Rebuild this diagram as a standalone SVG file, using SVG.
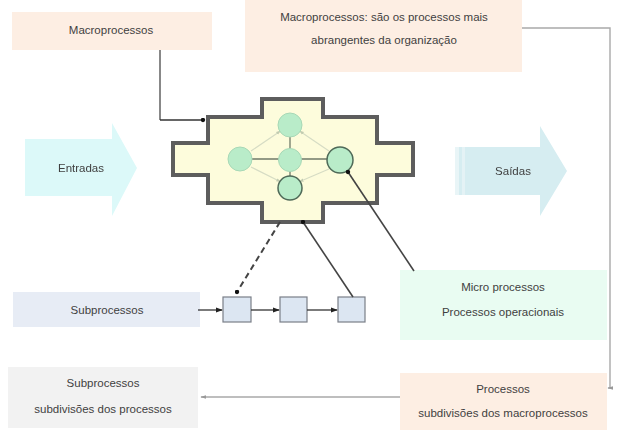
<svg xmlns="http://www.w3.org/2000/svg" width="617" height="433" viewBox="0 0 617 433">
  <style>
    text { font-family: "Liberation Sans", Arial, sans-serif; font-size: 11.5px; fill: #3f3f3f; text-anchor: middle; }
    .peach { fill: #fdeee3; }
    .sub { fill: #dce6f2; stroke: #7a7f88; stroke-width: 1.2; }
    .circ { fill: #b9ecc9; stroke: #a8d8b6; stroke-width: 1; }
    .circ-dark { fill: #b9ecc9; stroke: #4f6a58; stroke-width: 1.5; }
    .link { stroke: #333; stroke-width: 1.3; fill: none; }
    .soft { stroke: #a9a9a9; stroke-width: 1.4; fill: none; }
    .inner { stroke: #d6dcc4; stroke-width: 1.2; fill: none; }
  </style>
  <defs>
    <marker id="dot" viewBox="0 0 6 6" refX="3" refY="3" markerWidth="5" markerHeight="5" markerUnits="userSpaceOnUse">
      <circle cx="3" cy="3" r="2.6" fill="#111"/>
    </marker>
    <marker id="tip" viewBox="0 0 8 8" refX="7" refY="4" markerWidth="7" markerHeight="7" markerUnits="userSpaceOnUse" orient="auto">
      <path d="M0,1 L8,4 L0,7 z" fill="#222"/>
    </marker>
    <marker id="softTip" viewBox="0 0 8 8" refX="7" refY="4" markerWidth="6" markerHeight="6" markerUnits="userSpaceOnUse" orient="auto">
      <path d="M0,1.5 L8,4 L0,6.5 z" fill="#999"/>
    </marker>
    <marker id="tiny" viewBox="0 0 6 6" refX="3" refY="3" markerWidth="5" markerHeight="5" markerUnits="userSpaceOnUse" orient="auto">
      <path d="M0,1 L6,3 L0,5 z" fill="#c2cbb0"/>
    </marker>
    <filter id="soft" x="-10%" y="-10%" width="120%" height="120%">
      <feGaussianBlur stdDeviation="0.6"/>
    </filter>
  </defs>

  <!-- top-left label -->
  <g id="macro-label">
    <rect class="peach" x="12" y="12" width="200" height="38"/>
    <text x="111" y="34">Macroprocessos</text>
  </g>

  <!-- definition box -->
  <g id="macro-def">
    <rect class="peach" x="245" y="0" width="277" height="72"/>
    <text x="384" y="21">Macroprocessos:  são os processos mais</text>
    <text x="384" y="44">abrangentes da organização</text>
  </g>

  <!-- input arrow -->
  <g id="entradas" filter="url(#soft)">
    <path d="M25,139 H112 V123 L137,168 L112,216 V196 H25 z" fill="#dcf9f9"/>
    <text x="81" y="172">Entradas</text>
  </g>

  <!-- output arrow -->
  <g id="saidas" filter="url(#soft)">
    <path d="M455,147 H540 V126 L567,171 L540,216 V195 H455 z" fill="#d6edf1"/>
    <rect x="455" y="147" width="4" height="48" fill="#e9f5f7"/>
    <rect x="462" y="147" width="3" height="48" fill="#e4f2f5"/>
    <text x="513" y="175">Saídas</text>
  </g>

  <!-- macroprocess block -->
  <g id="macroprocesso">
    <path d="M262,99 H323 V117 H377 V143 H413 V175 H377 V203 H323 V222 H262 V203 H208 V175 H173 V143 H208 V117 H262 z"
          fill="#fdfcdc" stroke="#5d5d5d" stroke-width="4" stroke-linejoin="miter"/>
    <!-- faint links between processes -->
    <path class="inner" d="M251,151 L279,132" marker-end="url(#tiny)"/>
    <path class="inner" d="M251,167 L279,181" marker-end="url(#tiny)"/>
    <path class="inner" d="M329,151 L301,132" marker-end="url(#tiny)"/>
    <path class="inner" d="M329,169 L301,181" marker-end="url(#tiny)"/>
    <path d="M252,159 H327 M290,137 V176" stroke="#707a68" stroke-width="1.3" fill="none"/>
    <circle class="circ" cx="290" cy="125" r="12"/>
    <circle class="circ" cx="240" cy="159" r="12"/>
    <circle class="circ" cx="290" cy="160" r="11.5"/>
    <circle class="circ-dark" cx="340" cy="160" r="13"/>
    <circle class="circ-dark" cx="290" cy="188" r="12"/>
  </g>

  <!-- subprocess chain -->
  <g id="subprocessos-label">
    <rect x="13" y="292" width="187" height="35" fill="#e7ecf5"/>
    <text x="107" y="314">Subprocessos</text>
  </g>
  <g id="sub1"><rect class="sub" x="223" y="297" width="28" height="25"/></g>
  <g id="sub2"><rect class="sub" x="280" y="297" width="27" height="25"/></g>
  <g id="sub3"><rect class="sub" x="338" y="297" width="27" height="25"/></g>

  <!-- micro process box -->
  <g id="micro">
    <rect x="400" y="270" width="207" height="70" fill="#e9fcf2"/>
    <text x="503" y="291">Micro processos</text>
    <text x="503" y="316">Processos operacionais</text>
  </g>

  <!-- bottom boxes -->
  <g id="subprocessos-def">
    <rect x="8" y="367" width="190" height="61" fill="#f2f2f2"/>
    <text x="103" y="387">Subprocessos</text>
    <text x="103" y="413">subdivisões dos processos</text>
  </g>
  <g id="processos-def">
    <rect class="peach" x="400" y="373" width="207" height="57"/>
    <text x="503" y="393">Processos</text>
    <text x="503" y="417">subdivisões dos macroprocessos</text>
  </g>

  <!-- connectors, drawn last so their end dots sit on top -->
  <g id="connectors">
    <path class="soft" d="M522,28 H610 V388 H608" marker-end="url(#softTip)"/>
    <path class="soft" d="M400,397 H201" marker-end="url(#softTip)"/>
    <path d="M160,50 V120" stroke="#888" stroke-width="2" fill="none"/>
    <path class="link" d="M160,120 H203" marker-end="url(#dot)"/>
    <path d="M280,222 L237,292" stroke="#444" stroke-width="2" stroke-dasharray="6,4" fill="none" marker-end="url(#dot)"/>
    <path d="M353,297 L303,222" stroke="#444" stroke-width="1.6" fill="none" marker-end="url(#dot)"/>
    <path d="M414,271 L348,172" stroke="#444" stroke-width="1.6" fill="none" marker-end="url(#dot)"/>
    <path class="link" d="M198,310 H222" marker-end="url(#tip)"/>
    <path class="link" d="M251,310 H279" marker-end="url(#tip)"/>
    <path class="link" d="M307,310 H337" marker-end="url(#tip)"/>
  </g>
</svg>
